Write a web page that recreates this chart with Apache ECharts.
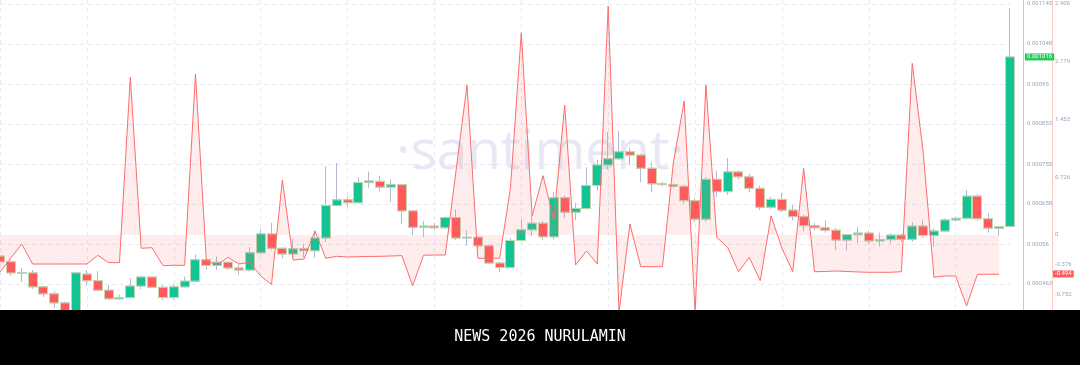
<!DOCTYPE html>
<html>
<head>
<meta charset="utf-8">
<script src="https://cdn.jsdelivr.net/npm/echarts@6/dist/echarts.min.js"></script>
<style>
html,body{margin:0;padding:0;background:#fff;}
#chart{width:1080px;height:365px;}
</style>
</head>
<body>
<div id="chart"></div>
<script>
// candles: [open, close, low, high]
const candles = [
[0.000531,0.000517,0.000510,0.000535],[0.000517,0.000490,0.000483,0.000520],[0.0004895,0.0004905,0.000468,0.000502],
[0.000490,0.000456,0.000451,0.000497],[0.000456,0.000439,0.000431,0.000458],[0.000439,0.000417,0.000404,0.000445],
[0.000417,0.000393,0.000385,0.000420],[0.000393,0.000490,0.000385,0.000492],[0.000487,0.000471,0.000460,0.000497],
[0.000471,0.000448,0.000446,0.000494],[0.000448,0.000427,0.000424,0.000460],[0.000427,0.000430,0.000424,0.000437],
[0.000430,0.000458,0.000429,0.000477],[0.000458,0.000480,0.000450,0.000482],[0.000480,0.000455,0.000453,0.000481],
[0.000455,0.000430,0.000424,0.000460],[0.000430,0.000456,0.000424,0.000463],[0.000456,0.000470,0.000454,0.000481],
[0.000470,0.000522,0.000468,0.000535],[0.000522,0.000508,0.000498,0.000523],[0.000508,0.000516,0.000498,0.000530],
[0.000516,0.000502,0.000497,0.000517],[0.000502,0.000497,0.000485,0.000510],[0.000497,0.000539,0.000493,0.000553],
[0.000539,0.000585,0.000535,0.000596],[0.000585,0.000550,0.000545,0.000612],[0.000550,0.000536,0.000526,0.000551],
[0.000536,0.000549,0.000526,0.000573],[0.000549,0.000544,0.000528,0.000561],[0.000544,0.000575,0.000527,0.000594],
[0.000575,0.000654,0.000565,0.000750],[0.000654,0.000668,0.000653,0.000758],[0.000668,0.000661,0.000650,0.000676],
[0.000661,0.000710,0.000659,0.000723],[0.000710,0.000714,0.000697,0.000737],[0.000713,0.000699,0.000689,0.000727],
[0.000699,0.000705,0.000663,0.000717],[0.000705,0.000641,0.000610,0.000706],[0.000641,0.000601,0.000582,0.000642],
[0.000601,0.000604,0.000578,0.000617],[0.000604,0.000600,0.000594,0.000611],[0.000600,0.000625,0.000599,0.000627],
[0.000625,0.000575,0.000570,0.000645],[0.000575,0.000577,0.000556,0.000594],[0.000577,0.000556,0.000550,0.000578],
[0.000556,0.000514,0.000512,0.000557],[0.000514,0.000503,0.000492,0.000515],[0.000503,0.000569,0.000502,0.000575],
[0.000569,0.000595,0.000566,0.000620],[0.000595,0.000611,0.000580,0.000630],[0.000611,0.000578,0.000570,0.000616],
[0.000578,0.000673,0.000571,0.000688],[0.000673,0.000638,0.000624,0.000679],[0.000638,0.000647,0.000619,0.000660],
[0.000647,0.000703,0.000645,0.000747],[0.000703,0.000753,0.000690,0.000766],[0.000753,0.000768,0.000742,0.000833],
[0.000768,0.000785,0.000766,0.000836],[0.000785,0.000777,0.000752,0.000795],[0.000777,0.000745,0.000711,0.000780],
[0.000745,0.000707,0.000687,0.000760],[0.000707,0.000705,0.000701,0.000712],[0.000705,0.000701,0.000696,0.000707],
[0.000701,0.000666,0.000659,0.000705],[0.000666,0.000621,0.000614,0.000672],[0.000621,0.000718,0.000614,0.000723],
[0.000718,0.000688,0.000675,0.000739],[0.000688,0.000736,0.000680,0.000770],[0.000736,0.000724,0.000717,0.000740],
[0.000724,0.000696,0.000687,0.000731],[0.000696,0.000650,0.000643,0.000703],[0.000650,0.000669,0.000646,0.000675],
[0.000669,0.000643,0.000638,0.000684],[0.000643,0.000627,0.000618,0.000655],[0.000627,0.000605,0.000591,0.000632],
[0.000605,0.000600,0.000593,0.000611],[0.000600,0.000594,0.000588,0.000618],[0.000594,0.000570,0.000546,0.000600],
[0.000570,0.000583,0.000545,0.000585],[0.000583,0.000587,0.000563,0.000602],[0.000587,0.000568,0.000561,0.000592],
[0.000568,0.000571,0.000554,0.000588],[0.000571,0.000582,0.000562,0.000586],[0.000582,0.000572,0.000566,0.000586],
[0.000572,0.000604,0.000566,0.000613],[0.000604,0.000581,0.000576,0.000620],[0.000581,0.000592,0.000554,0.000599],
[0.000592,0.000619,0.000590,0.000623],[0.000619,0.000623,0.000615,0.000627],[0.000623,0.000677,0.000620,0.000692],
[0.000677,0.000622,0.000617,0.000682],[0.000622,0.000599,0.000588,0.000635],[0.000599,0.000603,0.000581,0.000604],
[0.000603,0.001016,0.000602,0.001135]
];

const lineValues = [
-0.465,-0.289,-0.113,-0.365,-0.365,-0.365,-0.365,-0.365,-0.365,-0.255,
-0.348,-0.348,1.984,-0.167,-0.160,-0.386,-0.381,-0.381,2.025,-0.327,
-0.377,-0.281,-0.365,-0.343,-0.516,-0.623,0.692,-0.315,-0.302,0.050,
-0.293,-0.268,-0.277,-0.273,-0.270,-0.268,-0.264,-0.260,-0.638,-0.255,
-0.252,-0.252,0.818,1.887,-0.293,-0.293,-0.293,0.587,2.545,0.239,
0.746,0.189,1.635,-0.377,-0.201,-0.365,2.881,-0.970,0.138,-0.399,
-0.399,-0.399,0.906,1.686,-0.970,1.887,-0.029,-0.155,-0.462,-0.281,
-0.575,0.239,-0.167,-0.462,0.839,-0.462,-0.459,-0.453,-0.459,-0.465,
-0.469,-0.469,-0.469,-0.462,2.160,1.048,-0.532,-0.516,-0.516,-0.893,
-0.494,-0.494,-0.494
];

const priceTicks = [0.000463,0.00056,0.000658,0.000755,0.000853,0.00095,0.001048,0.001145];
const valueTicks = [-0.752,-0.376,0,0.726,1.453,2.179,2.906];

const categories = [];
for (let i = 0; i < candles.length; i++) categories.push('P' + (i + 1));

const bodies = candles.map(c => [c[0], c[1], Math.min(c[0], c[1]), Math.max(c[0], c[1])]);
const lastClose = candles[candles.length - 1][1];
const lastValue = lineValues[lineValues.length - 1];

const chart = echarts.init(document.getElementById('chart'));
const labelFont = 'Roboto, "DejaVu Sans", sans-serif';
const GRID_RIGHT = 70, PRICE_OFFSET = 13;
chart.setOption({
  animation: false,
  backgroundColor: '#ffffff',
  grid: { left: 0, right: GRID_RIGHT, top: 0, bottom: 55, containLabel: false },
  xAxis: {
    type: 'category', data: categories, boundaryGap: false,
    axisLine: { show: false }, axisTick: { show: false }, axisLabel: { show: false },
    splitLine: { show: true, interval: 7, lineStyle: { color: '#e6e9f1', type: [4, 4], width: 1 } }
  },
  yAxis: [
    {
      type: 'value', position: 'right', offset: PRICE_OFFSET,
      min: 0.00039967, max: 0.00115474,
      axisLine: { show: true, lineStyle: { color: '#9fe3b2', width: 1 } },
      axisTick: { show: false, customValues: priceTicks },
      axisLabel: { customValues: priceTicks, fontSize: 6, color: '#9aa4bd', margin: 4, fontFamily: labelFont,
                   formatter: v => String(+v.toPrecision(4)) },
      splitLine: { show: true, lineStyle: { color: '#e6e9f1', type: [4, 4], width: 1 } }
    },
    {
      type: 'value', position: 'right', offset: 42,
      min: -0.94351, max: 2.9563,
      axisLine: { show: true, lineStyle: { color: '#ffc6c6', width: 1 } },
      axisTick: { show: false, customValues: valueTicks },
      axisLabel: { customValues: valueTicks, fontSize: 6, color: '#9aa4bd', margin: 3, fontFamily: labelFont },
      splitLine: { show: false }
    }
  ],
  graphic: [
    { type: 'text', left: 'center', top: 126, z: 0, silent: true,
      style: { text: '·santiment·', fontSize: 55, fontFamily: '"Open Sans", "Noto Sans", sans-serif',
               fill: 'rgba(196,203,226,0.42)', x: -12 } },
    { type: 'rect', left: 0, top: 310, z: 100, shape: { width: 1080, height: 55 }, style: { fill: '#000000' } },
    { type: 'text', left: 'center', top: 330, z: 101,
      style: { text: 'NEWS 2026 NURULAMIN', fontSize: 15, fontFamily: '"DejaVu Sans Mono", monospace', fill: '#ffffff' } }
  ],
  series: [
    {
      type: 'candlestick', name: 'price', data: candles, yAxisIndex: 0, clip: false, barWidth: 9.5,
      itemStyle: { color: '#14c393', color0: '#ff5b5b', borderColor: '#b0b9d0', borderColor0: '#b0b9d0', borderWidth: 1 }
    },
    {
      type: 'candlestick', name: 'body', data: bodies, yAxisIndex: 0, clip: false, barWidth: 9.5,
      itemStyle: { color: '#14c393', color0: '#ff5b5b', borderColor: '#bcd9b4', borderColor0: '#c9d6b0', borderWidth: 1 }
    },
    {
      type: 'line', name: 'metric', data: lineValues, yAxisIndex: 1, symbol: 'none', smooth: false,
      lineStyle: { color: '#ff6b6b', width: 1 },
      areaStyle: { color: 'rgba(255,110,110,0.18)' },
      markLine: {
        silent: true, symbol: ['none', 'none'], z: 20,
        lineStyle: { color: 'rgba(0,0,0,0)', width: 1, type: 'solid' },
        label: { show: true, position: 'end', distance: 43, formatter: () => String(lastValue), color: '#ffffff',
                 backgroundColor: '#ff5b5b', padding: [1, 2, 0, 2], fontSize: 6, fontFamily: labelFont },
        data: [{ yAxis: lastValue }]
      }
    }
  ]
});

// last-price tag placed on the price axis through the library's own scale
const tagY = chart.convertToPixel({ yAxisIndex: 0 }, lastClose);
const axisX = chart.getWidth() - GRID_RIGHT + PRICE_OFFSET;
chart.setOption({
  graphic: [
    { type: 'text', id: 'priceTag', x: axisX + 2, y: tagY, z: 50, silent: true,
      style: { text: String(lastClose), fill: '#ffffff', backgroundColor: '#26c95a', padding: [1, 2, 0, 2],
               fontSize: 6, fontFamily: labelFont, verticalAlign: 'middle', align: 'left' } }
  ]
});
</script>
</body>
</html>
